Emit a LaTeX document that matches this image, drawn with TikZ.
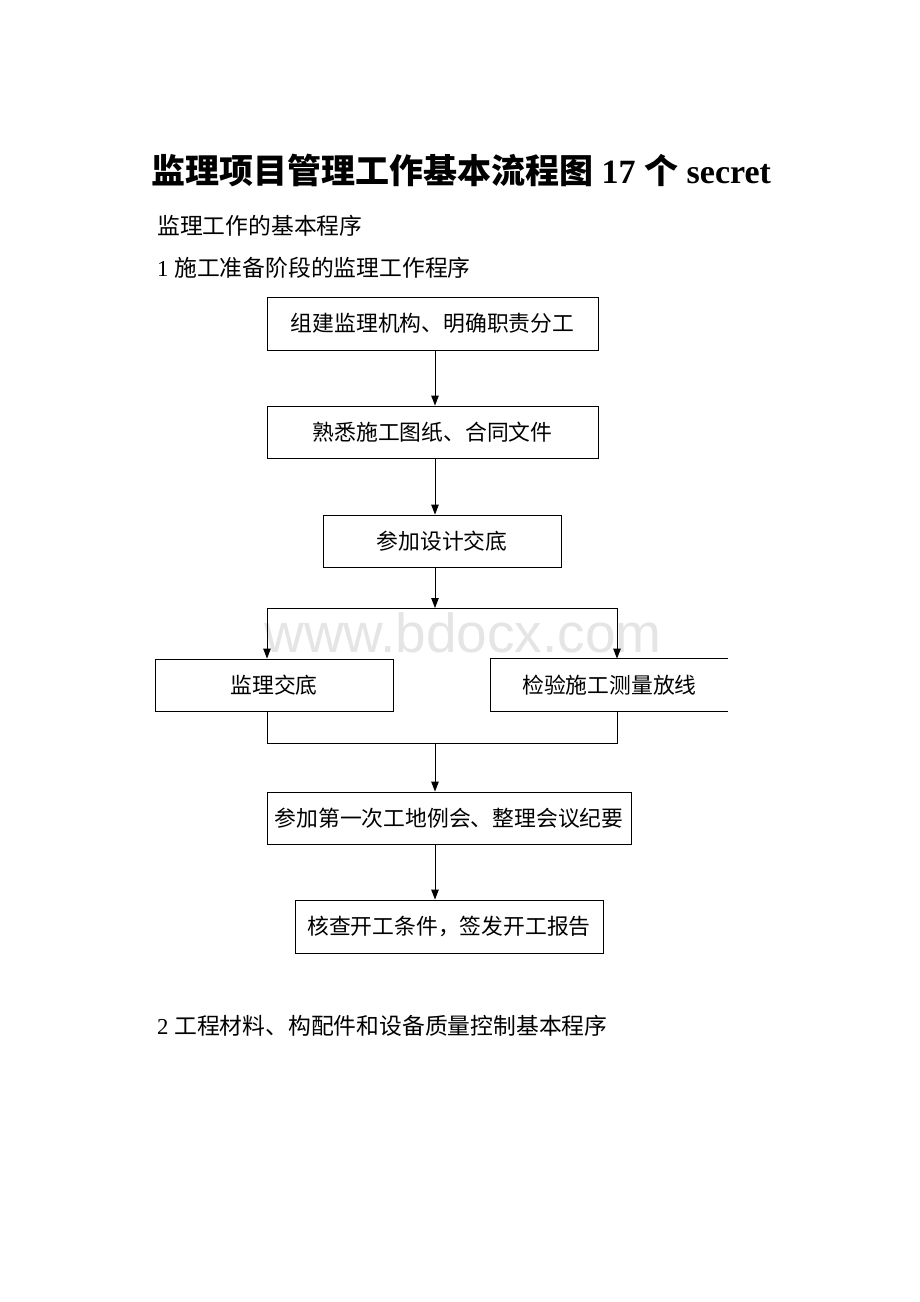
\documentclass[tikz,border=0pt]{standalone}
\usepackage{fontspec}
\setmainfont{Liberation Serif}
\newfontfamily\cjk{Noto Sans CJK SC}
\newfontfamily\wmfont{Liberation Sans}
\usetikzlibrary{arrows.meta,calc}
\begin{document}
\begin{tikzpicture}[x=1pt,y=-1pt,
  box/.style={draw, line width=0.9pt, inner sep=0pt, font=\cjk\fontsize{21.8}{25}\selectfont},
  arr/.style={-{Triangle[length=10pt,width=7.5pt]}, line width=0.9pt},
  ln/.style={line width=0.9pt},
  para/.style={anchor=west, inner sep=0pt, font=\fontsize{22.8}{27}\selectfont}]
\useasboundingbox (0,0) rectangle (920,1302);
\fill[white] (0,0) rectangle (920,1302);
% watermark
\node[text=black!10, font=\wmfont\fontsize{55}{60}\selectfont] (wm) at (463,633) {www.bdocx.com};
% title and text
\node[anchor=west, inner sep=0pt, font=\bfseries\fontsize{34}{40}\selectfont] (title) at (151,170)
  {{\cjk\bfseries 监理项目管理工作基本流程图} 17 {\cjk\bfseries 个} secret};
\node[para] (s1) at (157,226) {{\cjk 监理工作的基本程序}};
\node[para] (s2) at (157,268) {1 {\cjk 施工准备阶段的监理工作程序}};
\node[para] (s3) at (157,1026) {2 {\cjk 工程材料、构配件和设备质量控制基本程序}};
% boxes
\node[box, minimum width=331pt, minimum height=53pt] (b1) at (432.5,323.5) {组建监理机构、明确职责分工};
\node[box, minimum width=331pt, minimum height=52pt] (b2) at (432.5,432) {熟悉施工图纸、合同文件};
\node[box, minimum width=238pt, minimum height=52pt] (b3) at (442,541) {参加设计交底};
\node[box, minimum width=238pt, minimum height=52pt] (bl) at (274,685) {监理交底};
\node[box, draw=none, minimum width=237pt, minimum height=52pt] (br) at (609.5,685) {检验施工测量放线};
\draw[ln] (br.north east) -- (br.north west) -- (br.south west) -- (br.south east);
\node[box, minimum width=364pt, minimum height=52pt] (b4) at (449,818) {参加第一次工地例会、整理会议纪要};
\node[box, minimum width=308pt, minimum height=53pt] (b5) at (449,926.5) {核查开工条件，签发开工报告};
% connectors
\coordinate (cx) at (435,0);
\coordinate (split) at (435,608);
\coordinate (lbr) at (267,608);
\coordinate (rbr) at (617,608);
\coordinate (lm) at (267,743);
\coordinate (rm) at (617,743);
\coordinate (mg) at (435,743);
\draw[arr] (b1.south -| cx) -- (b2.north -| cx);
\draw[arr] (b2.south -| cx) -- (b3.north -| cx);
\draw[arr] (b3.south -| split) -- (split);
\draw[ln] (lbr) -- (rbr);
\draw[arr] (lbr) -- (bl.north -| lbr);
\draw[arr] (rbr) -- (br.north -| rbr);
\draw[ln] (bl.south -| lm) -- (lm) -- (rm) -- (br.south -| rm);
\draw[arr] (mg) -- (b4.north -| mg);
\draw[arr] (b4.south -| cx) -- (b5.north -| cx);
\end{tikzpicture}
\end{document}
